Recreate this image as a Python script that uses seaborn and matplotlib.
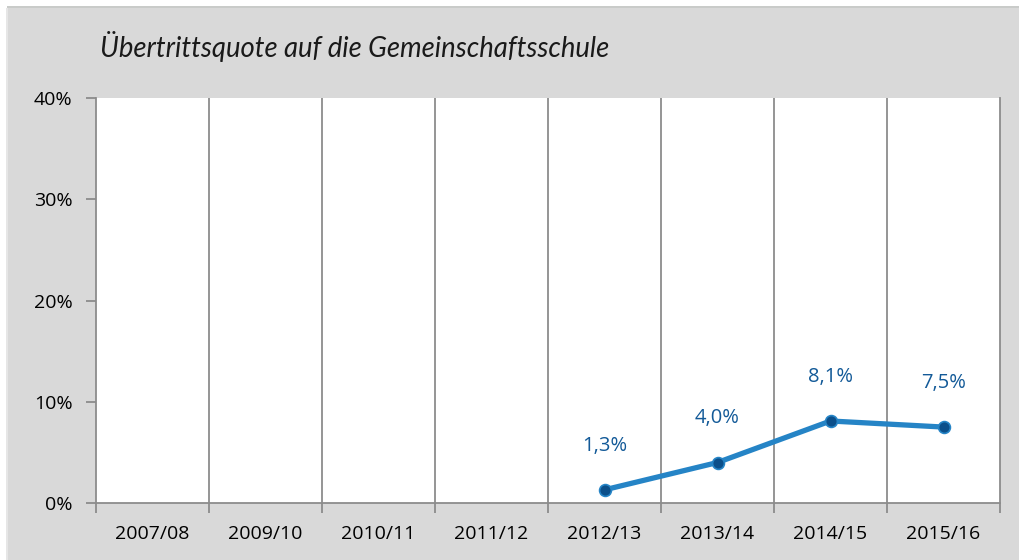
import matplotlib
matplotlib.use("Agg")
import matplotlib.pyplot as plt
import seaborn as sns
import pandas as pd
import numpy as np
from matplotlib.patches import Rectangle

# Data
categories = ["2007/08", "2009/10", "2010/11", "2011/12", "2012/13", "2013/14", "2014/15", "2015/16"]
values = [None, None, None, None, 1.3, 4.0, 8.1, 7.5]
value_labels = ["", "", "", "", "1,3%", "4,0%", "8,1%", "7,5%"]
y_ticks = [0, 10, 20, 30, 40]
y_tick_labels = ["0%", "10%", "20%", "30%", "40%"]
title = "Übertrittsquote auf die Gemeinschaftsschule"

sns.set_theme(style="white")
plt.rcParams["font.family"] = ["Open Sans", "DejaVu Sans"]

W, H = 1019, 560
fig = plt.figure(figsize=(W / 100, H / 100), dpi=100, facecolor="white")
# grey panel background with thin border strips
for r in [
    Rectangle((7 / W, 0), 1 - 7 / W, 1 - 8 / H, facecolor="#d9d9d9"),
    Rectangle((7 / W, 1 - 8 / H), 1 - 7 / W, 2 / H, facecolor="#c9cbc9"),
    Rectangle((6 / W, 0), 1.5 / W, 1 - 8 / H, facecolor="#e6e6e6"),
]:
    r.set_transform(fig.transFigure)
    r.set_edgecolor("none")
    r.set_zorder(-10)
    fig.add_artist(r)

ax = fig.add_axes([96 / W, (H - 503) / H, (1000 - 96) / W, (503 - 98) / H])
ax.set_zorder(1)
ax.set_facecolor("white")

df = pd.DataFrame({"x": np.arange(len(categories)),
                   "y": [np.nan if v is None else v for v in values]})
df_valid = df.dropna()

sns.lineplot(data=df_valid, x="x", y="y", ax=ax, color="#2584c6", linewidth=3.8,
             marker="o", markersize=8.5, markerfacecolor="#0b4f8a",
             markeredgecolor="#2584c6", markeredgewidth=1.2, zorder=5, legend=False)

for xi, v, lab in zip(df["x"], values, value_labels):
    if v is None:
        continue
    ax.annotate(lab, (xi, v), xytext=(0, 44), textcoords="offset pixels",
                ha="center", va="center", fontsize=14.5, color="#135a98")

n = len(categories)
ax.set_xlim(-0.5, n - 0.5)
ax.set_ylim(0, 40)

# category boundary gridlines
for b in np.arange(0.5, n - 0.5, 1.0):
    ax.axvline(b, color="#8c8c8c", linewidth=1.3, zorder=1)

ax.set_yticks(y_ticks)
ax.set_yticklabels(y_tick_labels, fontsize=14, color="black")
ax.set_xticks(np.arange(n))
ax.set_xticklabels(categories, fontsize=14, color="black")
ax.tick_params(axis="x", which="major", bottom=True, length=0, pad=16)
# boundary ticks below x axis
ax.set_xticks(np.arange(-0.5, n, 1.0), minor=True)
ax.tick_params(axis="x", which="minor", bottom=True, length=7, width=1.3, color="#8c8c8c", direction="out")
ax.tick_params(axis="y", left=True, length=7, width=1.3, color="#8c8c8c", direction="out", pad=10)

for side in ["left", "bottom", "right"]:
    ax.spines[side].set_visible(True)
    ax.spines[side].set_color("#8c8c8c")
    ax.spines[side].set_linewidth(1.3)
ax.spines["top"].set_visible(False)
ax.set_xlabel("")
ax.set_ylabel("")

fig.text(100 / W, 1 - 47 / H, title, fontsize=19.8, style="italic",
         color="#1a1a1a", ha="left", va="center", family=["Lato", "DejaVu Sans"])

fig.savefig("out.png", dpi=100, facecolor=fig.get_facecolor())
